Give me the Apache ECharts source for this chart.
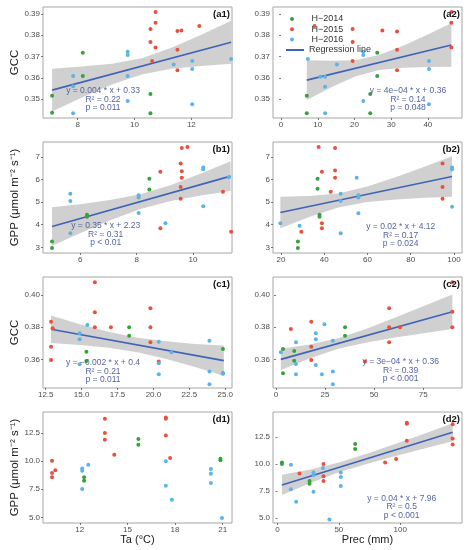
<!DOCTYPE html>
<html>
<head>
<meta charset="utf-8">
<script src="https://cdn.jsdelivr.net/npm/echarts@6/dist/echarts.min.js"></script>
<style>
html, body { margin: 0; padding: 0; background: #fff; }
#chart { width: 470px; height: 550px; }
</style>
</head>
<body>
<div id="chart"></div>
<script>
// ---- values ----
const a1H2014 = [[7.10,0.3516],[7.10,0.3436],[8.18,0.3718],[8.18,0.3608],[10.56,0.3524],[10.56,0.3433]];
const a1H2015 = [[10.74,0.3909],[10.74,0.3859],[10.56,0.3829],[10.56,0.3768],[10.74,0.3742],[10.62,0.3679],[11.51,0.3820],[11.65,0.3823],[11.51,0.3732],[11.51,0.3636],[12.28,0.3844]];
const a1H2016 = [[7.84,0.3608],[7.84,0.3560],[7.84,0.3433],[9.76,0.3723],[9.76,0.3707],[9.76,0.3608],[9.76,0.3491],[11.38,0.3663],[12.03,0.3679],[12.03,0.3641],[12.03,0.3476],[13.40,0.3688]];
const a1LineX = [7.1, 13.4];
const a1LineY = [0.3542, 0.3767];
const a1BandX = [7.1, 8.15, 9.2, 10.25, 11.3, 12.35, 13.4];
const a1BandLo = [0.3441, 0.3507, 0.3568, 0.3616, 0.3643, 0.3656, 0.3666];
const a1BandHi = [0.3643, 0.3653, 0.3666, 0.3692, 0.3741, 0.3802, 0.3868];
const a1Eq = ['y = 0.004 * x + 0.33', 'R² = 0.22', 'p = 0.011'];

const a2H2014 = [[7.0,0.3516],[7.0,0.3433],[26.2,0.3718],[26.2,0.3608],[24.3,0.3524],[24.3,0.3433]];
const a2H2015 = [[46.4,0.3909],[46.4,0.3859],[19.5,0.3829],[19.5,0.3768],[46.4,0.3742],[19.5,0.3679],[27.6,0.3822],[31.6,0.3818],[31.6,0.3732],[31.6,0.3636],[9.1,0.3844]];
const a2H2016 = [[7.3,0.3688],[10.7,0.3605],[12.0,0.3605],[12.0,0.3558],[12.0,0.3433],[15.2,0.3663],[22.4,0.3723],[22.4,0.3707],[22.4,0.3491],[40.3,0.3679],[40.3,0.3641],[40.3,0.3476]];
const a2LineX = [7.0, 46.4];
const a2LineY = [0.3589, 0.3754];
const a2BandX = [7.0, 13.57, 20.13, 26.7, 33.27, 39.83, 46.4];
const a2BandLo = [0.3496, 0.3554, 0.3606, 0.3637, 0.3647, 0.3651, 0.3652];
const a2BandHi = [0.3682, 0.3680, 0.3683, 0.3707, 0.3751, 0.3803, 0.3856];
const a2Eq = ['y = 4e\u221204 * x + 0.36', 'R² = 0.14', 'p = 0.048'];

const b1H2014 = [[5.0,3.26],[5.0,2.97],[6.24,4.44],[6.24,4.35],[8.45,6.03],[8.45,5.56]];
const b1H2015 = [[9.6,7.40],[9.8,7.44],[9.56,6.71],[9.6,6.37],[9.6,6.08],[9.56,5.67],[9.56,5.15],[8.84,6.34],[8.84,3.84],[11.06,5.46],[11.35,3.69]];
const b1H2016 = [[5.65,5.37],[5.65,5.05],[5.65,3.62],[8.07,5.30],[8.07,5.20],[8.07,4.52],[9.02,4.07],[10.36,6.53],[10.36,6.46],[10.36,4.82],[11.27,6.10]];
const b1LineX = [5.0, 11.33];
const b1LineY = [3.92, 6.15];
const b1BandX = [5.0, 6.055, 7.11, 8.165, 9.22, 10.275, 11.33];
const b1BandLo = [3.07, 3.66, 4.225, 4.709, 5.047, 5.288, 5.488];
const b1BandHi = [4.77, 4.922, 5.101, 5.359, 5.763, 6.266, 6.808];
const b1Eq = ['y = 0.35 * x + 2.23', 'R² = 0.31', 'p < 0.01'];

const b2H2014 = [[27.8,3.26],[27.8,2.97],[37.8,4.44],[37.8,4.35],[36.9,6.03],[36.9,5.59]];
const b2H2015 = [[37.4,7.44],[45.0,7.40],[38.9,6.34],[45.0,6.40],[45.0,6.08],[43.0,5.46],[38.9,4.07],[38.9,3.84],[29.4,3.69],[94.7,6.71],[94.7,5.67],[94.7,5.15]];
const b2H2016 = [[19.7,4.07],[28.6,3.95],[47.6,5.37],[47.6,5.05],[47.6,3.62],[55.0,6.08],[55.8,5.30],[55.8,5.20],[55.8,4.51],[99.1,6.53],[99.1,6.46],[99.1,4.80]];
const b2LineX = [19.7, 99.1];
const b2LineY = [4.54, 6.13];
const b2BandX = [19.7, 33.08, 46.47, 59.85, 73.23, 86.62, 99.1];
const b2BandLo = [3.84, 4.345, 4.768, 5.002, 5.118, 5.192, 5.24];
const b2BandHi = [5.24, 5.271, 5.386, 5.688, 6.108, 6.572, 7.03];
const b2Eq = ['y = 0.02 * x + 4.12', 'R² = 0.17', 'p = 0.024'];

const c1H2014 = [[18.31,0.3799],[18.31,0.3747],[15.33,0.3648],[15.33,0.3590],[24.84,0.3665],[24.84,0.3514]];
const c1H2015 = [[12.87,0.3834],[12.98,0.3793],[12.87,0.3679],[12.87,0.3596],[15.92,0.4079],[15.92,0.3893],[15.92,0.3799],[17.04,0.3799],[19.79,0.3917],[19.79,0.3799],[19.79,0.3706],[20.37,0.3586]];
const c1H2016 = [[15.40,0.3814],[14.86,0.3762],[14.86,0.3725],[14.86,0.3570],[20.37,0.3710],[20.37,0.3576],[20.37,0.3507],[21.25,0.3644],[23.90,0.3716],[23.90,0.3524],[23.90,0.3445],[24.84,0.3510]];
const c1LineX = [12.87, 24.9];
const c1LineY = [0.3787, 0.3592];
const c1BandX = [12.87, 14.875, 16.88, 18.885, 20.89, 22.895, 24.9];
const c1BandLo = [0.3702, 0.3689, 0.3672, 0.3644, 0.3603, 0.3552, 0.3498];
const c1BandHi = [0.3872, 0.3819, 0.3772, 0.3734, 0.3712, 0.3696, 0.3686];
const c1Eq = ['y = \u22120.002 * x + 0.4', 'R² = 0.21', 'p = 0.011'];

const c2H2014 = [[35.2,0.3799],[35.2,0.3747],[3.6,0.3665],[3.6,0.3513],[9.3,0.3652],[9.3,0.3592]];
const c2H2015 = [[89.9,0.4079],[89.9,0.3896],[89.9,0.3799],[57.7,0.3917],[57.7,0.3799],[57.7,0.3706],[63.2,0.3799],[7.6,0.3789],[18.0,0.3834],[18.0,0.3679],[18.0,0.3596],[45.4,0.3586]];
const c2H2016 = [[2.5,0.3644],[10.2,0.3706],[10.2,0.3571],[10.2,0.3507],[20.3,0.3762],[20.3,0.3725],[20.3,0.3565],[24.7,0.3818],[23.4,0.3507],[29.0,0.3716],[29.0,0.3524],[29.0,0.3445]];
const c2LineX = [2.5, 89.9];
const c2LineY = [0.3600, 0.3896];
const c2BandX = [2.5, 17.07, 31.63, 46.2, 60.77, 75.33, 89.9];
const c2BandLo = [0.3534, 0.3606, 0.3666, 0.3705, 0.3736, 0.3763, 0.3789];
const c2BandHi = [0.3666, 0.3692, 0.3732, 0.3791, 0.3860, 0.3931, 0.4003];
const c2Eq = ['y = 3e\u221204 * x + 0.36', 'R² = 0.39', 'p < 0.001'];

const d1H2014 = [[15.69,11.97],[15.69,11.46],[12.27,8.56],[12.27,8.26],[20.86,10.22],[20.86,10.07]];
const d1H2015 = [[10.25,10.04],[10.25,8.94],[10.25,8.56],[10.46,9.18],[13.58,13.78],[13.58,12.5],[13.58,11.91],[14.17,10.57],[17.42,13.89],[17.42,13.78],[17.42,12.29],[17.69,10.28]];
const d1H2016 = [[12.15,9.35],[12.15,9.15],[12.15,7.52],[12.53,9.68],[17.42,10.0],[17.42,7.81],[17.8,6.57],[20.26,9.30],[20.26,8.88],[20.26,8.05],[20.96,4.94]];

const d2H2014 = [[3.6,10.15],[3.6,10.0],[26.1,8.44],[26.1,8.18],[63.3,11.87],[63.3,11.41]];
const d2H2015 = [[142.8,13.7],[142.8,12.37],[142.8,11.81],[105.4,13.75],[105.4,13.85],[105.4,12.18],[96.7,10.47],[87.7,10.15],[37.5,10.0],[37.5,8.88],[37.5,8.44],[17.9,9.12]];
const d2H2016 = [[10.9,9.93],[10.9,7.66],[15.2,6.5],[29.3,9.21],[29.3,8.99],[29.3,7.43],[37.0,9.63],[42.3,4.85],[51.6,9.21],[51.6,8.81],[51.6,7.97]];
const d2LineX = [3.6, 142.8];
const d2LineY = [8.06, 12.96];
const d2BandX = [3.6, 26.8, 50.0, 73.2, 96.4, 119.6, 142.8];
const d2BandLo = [7.12, 8.255, 9.242, 10.031, 10.762, 11.456, 12.13];
const d2BandHi = [9.0, 9.499, 10.144, 10.989, 11.892, 12.83, 13.79];
const d2Eq = ['y = 0.04 * x + 7.96', 'R² = 0.5', 'p < 0.001'];

// tick labels
const ticksTaA = [8, 10, 12];
const ticksPrecA = [0, 10, 20, 30, 40];
const ticksGccA = [0.35, 0.36, 0.37, 0.38, 0.39];
const ticksTaB = [6, 8, 10];
const ticksPrecB = [20, 40, 60, 80, 100];
const ticksGppB = [3, 4, 5, 6, 7];
const ticksTaC = [12.5, 15, 17.5, 20, 22.5, 25];
const ticksPrecC = [0, 25, 50, 75];
const ticksGccC = [0.36, 0.38, 0.40];
const ticksTaD = [12, 15, 18, 21];
const ticksPrecD = [0, 50, 100];
const ticksGppD = [5, 7.5, 10, 12.5];

const groups = ['H\u22122014', 'H\u22122015', 'H\u22122016'];
const groupColors = ['#35a23a', '#e8513d', '#5cb4e6'];
const lineColor = '#4063b8';
const eqColor = '#55649e';
const font = 'Liberation Sans, Arial, sans-serif';
const gppName = 'GPP (\u03bcmol m\u207b\u00b2 s\u207b\u00b9)';

const panels = [
    {tag: '(a1)', pts: [a1H2014, a1H2015, a1H2016], lx: a1LineX, ly: a1LineY, bx: a1BandX, blo: a1BandLo, bhi: a1BandHi, eq: a1Eq,
     xt: ticksTaA, yt: ticksGccA, xr: [6.78, 13.43], yr: [0.3411, 0.3933], xd: 0, yd: 2, left: 43, top: 7, ex: 103, ey: 90.7, yName: 'GCC'},
    {tag: '(a2)', pts: [a2H2014, a2H2015, a2H2016], lx: a2LineX, ly: a2LineY, bx: a2BandX, blo: a2BandLo, bhi: a2BandHi, eq: a2Eq,
     xt: ticksPrecA, yt: ticksGccA, xr: [-2.2, 49.3], yr: [0.3411, 0.3933], xd: 0, yd: 2, left: 273, top: 7, ex: 408, ey: 90.7},
    {tag: '(b1)', pts: [b1H2014, b1H2015, b1H2016], lx: b1LineX, ly: b1LineY, bx: b1BandX, blo: b1BandLo, bhi: b1BandHi, eq: b1Eq,
     xt: ticksTaB, yt: ticksGppB, xr: [4.68, 11.38], yr: [2.75, 7.66], xd: 0, yd: 0, left: 43, top: 142, ex: 105.7, ey: 225.7, yName: gppName},
    {tag: '(b2)', pts: [b2H2014, b2H2015, b2H2016], lx: b2LineX, ly: b2LineY, bx: b2BandX, blo: b2BandLo, bhi: b2BandHi, eq: b2Eq,
     xt: ticksPrecB, yt: ticksGppB, xr: [16.3, 103.7], yr: [2.75, 7.66], xd: 0, yd: 0, left: 273, top: 142, ex: 400.7, ey: 226.7},
    {tag: '(c1)', pts: [c1H2014, c1H2015, c1H2016], lx: c1LineX, ly: c1LineY, bx: c1BandX, blo: c1BandLo, bhi: c1BandHi, eq: c1Eq,
     xt: ticksTaC, yt: ticksGccC, xr: [12.31, 25.47], yr: [0.3422, 0.4112], xd: 1, yd: 2, left: 43, top: 277, ex: 103, ey: 362.7, yName: 'GCC'},
    {tag: '(c2)', pts: [c2H2014, c2H2015, c2H2016], lx: c2LineX, ly: c2LineY, bx: c2BandX, blo: c2BandLo, bhi: c2BandHi, eq: c2Eq,
     xt: ticksPrecC, yt: ticksGccC, xr: [-1.5, 94.8], yr: [0.3422, 0.4112], xd: 0, yd: 2, left: 273, top: 277, ex: 400.7, ey: 361.7},
    {tag: '(d1)', pts: [d1H2014, d1H2015, d1H2016],
     xt: ticksTaD, yt: ticksGppD, xr: [9.68, 21.59], yr: [4.5, 14.37], xd: 0, yd: 1, left: 43, top: 412, yName: gppName, xName: 'Ta (\u00b0C)', xGap: 6},
    {tag: '(d2)', pts: [d2H2014, d2H2015, d2H2016], lx: d2LineX, ly: d2LineY, bx: d2BandX, blo: d2BandLo, bhi: d2BandHi, eq: d2Eq,
     xt: ticksPrecD, yt: ticksGppD, xr: [-3.7, 150.4], yr: [4.53, 14.84], xd: 0, yd: 1, left: 273, top: 412, ex: 401.7, ey: 498.3, xName: 'Prec (mm)', xGap: 8}
];

const panelW = 189;
const panelH = 111;
const grids = [], xAxes = [], yAxes = [], series = [], graphics = [];

panels.forEach(function (p, i) {
    grids.push({left: p.left, top: p.top, width: panelW, height: panelH, show: true,
        borderColor: '#a6a6a6', borderWidth: 1, backgroundColor: 'transparent'});
    const tickStyle = {show: true, length: 2, lineStyle: {color: '#555', width: 0.8}};
    xAxes.push({
        gridIndex: i, type: 'value', min: p.xr[0], max: p.xr[1],
        axisLine: {show: false}, splitLine: {show: false},
        axisTick: Object.assign({customValues: p.xt}, tickStyle),
        axisLabel: {customValues: p.xt, margin: 3, fontSize: 8, color: '#4d4d4d', fontFamily: font,
            formatter: function (v) { return v.toFixed(p.xd); }},
        name: p.xName || '', nameLocation: 'middle', nameGap: p.xGap || 10,
        nameTextStyle: {fontSize: 11, color: '#222', fontFamily: font}
    });
    yAxes.push({
        gridIndex: i, type: 'value', min: p.yr[0], max: p.yr[1],
        axisLine: {show: false}, splitLine: {show: false},
        axisTick: Object.assign({customValues: p.yt}, tickStyle),
        axisLabel: {customValues: p.yt, margin: 3, fontSize: 8, color: '#4d4d4d', fontFamily: font,
            formatter: function (v) { return v.toFixed(p.yd); }},
        name: p.yName || '', nameLocation: 'middle', nameGap: 22,
        nameTextStyle: {fontSize: 11.5, color: '#222', fontFamily: font}
    });

    if (p.bx) {
        series.push({
            type: 'custom', xAxisIndex: i, yAxisIndex: i, z: 1, silent: true,
            data: [[p.bx[0], p.blo[0]]],
            renderItem: function (params, api) {
                const pts = [];
                for (let k = 0; k < p.bx.length; k++) pts.push(api.coord([p.bx[k], p.bhi[k]]));
                for (let k = p.bx.length - 1; k >= 0; k--) pts.push(api.coord([p.bx[k], p.blo[k]]));
                return {type: 'polygon', shape: {points: pts}, style: {fill: '#d0d0d0'}};
            }
        });
    }

    p.pts.forEach(function (arr, g) {
        series.push({
            name: groups[g], type: 'scatter', xAxisIndex: i, yAxisIndex: i, z: 3,
            data: arr, symbolSize: 4, itemStyle: {color: groupColors[g], opacity: 1}
        });
    });

    if (p.lx) {
        series.push({
            name: 'Regression line', type: 'line', xAxisIndex: i, yAxisIndex: i, z: 2,
            data: p.lx.map(function (x, k) { return [x, p.ly[k]]; }),
            showSymbol: false, lineStyle: {color: lineColor, width: 1.6}, itemStyle: {color: lineColor}
        });
        p.eq.forEach(function (t, k) {
            graphics.push({type: 'text', x: p.ex, y: p.ey + k * 8.5, z: 10,
                style: {text: t, fill: eqColor, fontSize: 8.5, fontFamily: font, align: 'center', verticalAlign: 'middle'}});
        });
    }

    graphics.push({type: 'text', x: p.left + panelW - 2, y: p.top + 7, z: 10,
        style: {text: p.tag, fill: '#111', fontSize: 9.5, fontWeight: 'bold', fontFamily: font, align: 'right', verticalAlign: 'middle'}});
});

const chart = echarts.init(document.getElementById('chart'), null, {renderer: 'canvas'});
chart.setOption({
    animation: false,
    backgroundColor: '#fff',
    grid: grids,
    xAxis: xAxes,
    yAxis: yAxes,
    legend: [
        {data: groups, orient: 'vertical', left: 285, top: 9, itemWidth: 6, itemHeight: 4, itemGap: 0.3,
         icon: 'circle', selectedMode: false,
         formatter: function (name) { return '\u2002\u2002 ' + name; },
         textStyle: {fontSize: 9, color: '#333', fontFamily: font, lineHeight: 10}},
        {data: ['Regression line'], left: 281, top: 40, itemWidth: 18, itemHeight: 2, icon: 'rect', selectedMode: false,
         textStyle: {fontSize: 9, color: '#333', fontFamily: font, lineHeight: 10}}
    ],
    graphic: graphics,
    series: series
});
</script>
</body>
</html>
